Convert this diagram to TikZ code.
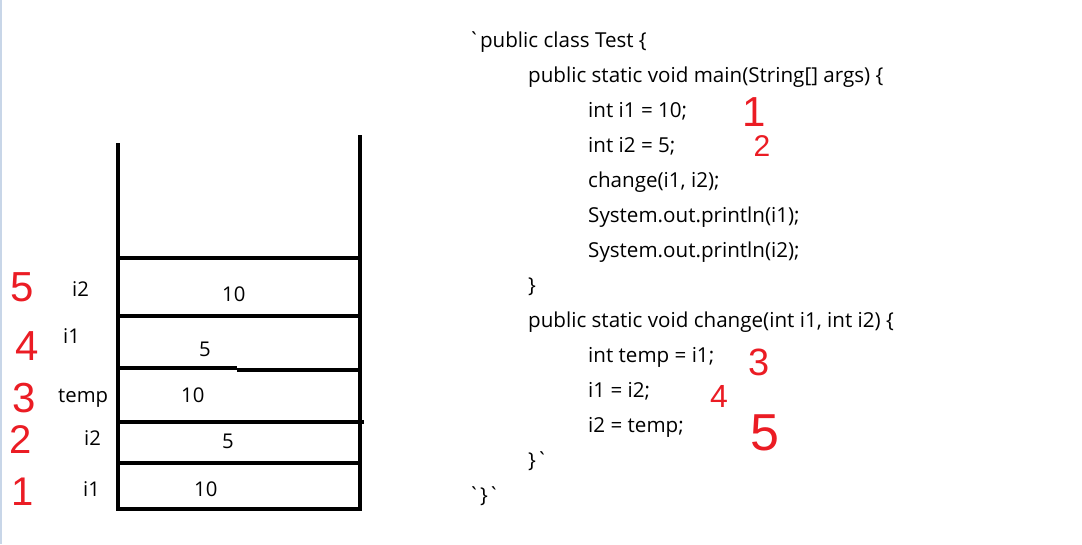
\documentclass[tikz,border=0pt]{standalone}
\usepackage{fontspec}
\setmainfont{Open Sans}
\newfontfamily\handfont{Liberation Sans}
\definecolor{penred}{RGB}{235,28,36}
\definecolor{edgeblue}{RGB}{200,214,232}
\begin{document}
\begin{tikzpicture}[x=1pt,y=-1pt,
  codetxt/.style={anchor=base west, inner sep=0pt, font=\fontsize{20.6}{24}\selectfont},
  cell/.style={anchor=base west, inner sep=0pt, font=\fontsize{20.3}{24}\selectfont},
  stackline/.style={line width=4pt},
  handnum/.style={inner sep=0pt, text=penred, font=\handfont\fontsize{#1}{#1}\selectfont}]
\useasboundingbox (0,0) rectangle (1082,544);
\fill[white] (0,0) rectangle (1082,544);
\draw[edgeblue, line width=1.5pt] (0.75,0) -- (0.75,544);

% stack
\coordinate (lt) at (118,143);
\coordinate (lb) at (118,511);
\coordinate (rt) at (360,135);
\coordinate (rb) at (360,511);
\draw[stackline] (lt) -- (lb);
\draw[stackline] (rt) -- (rb);
\draw[stackline] (116,509) -- (362,509);
\draw[stackline] (118,258) -- (360,258);
\draw[stackline] (118,316) -- (360,316);
\draw[stackline] (118,368) -- (237,368);
\draw[stackline] (237,370) -- (358,370);
\draw[stackline] (118,422) -- (364,422);
\draw[stackline] (118,463) -- (360,463);

% stack labels
\node[cell] (n5) at (72,296) {i2};
\node[cell] (v5) at (222,301) {10};
\node[cell] (n4) at (63,343) {i1};
\node[cell] (v4) at (199,356) {5};
\node[cell] (n3) at (58,402) {temp};
\node[cell] (v3) at (181,402) {10};
\node[cell] (n2) at (84,445) {i2};
\node[cell] (v2) at (222,448) {5};
\node[cell] (n1) at (83,496) {i1};
\node[cell] (v1) at (194,496) {10};

% red step numbers (left)
\node[handnum=42] (s5) at (22,287) {5};
\node[handnum=42] (s4) at (27,346) {4};
\node[handnum=42] (s3) at (24,398) {3};
\node[handnum=40] (s2) at (21,440) {2};
\node[handnum=40] (s1) at (23,492) {1};

% code
\node[codetxt] (c1)  at (468,47)  {\textasciigrave public class Test \{};
\node[codetxt] (c2)  at (528,82)  {public static void main(String[] args) \{};
\node[codetxt] (c3)  at (588,117) {int i1 = 10;};
\node[codetxt] (c4)  at (588,152) {int i2 = 5;};
\node[codetxt] (c5)  at (588,187) {change(i1, i2);};
\node[codetxt] (c6)  at (588,222) {System.out.println(i1);};
\node[codetxt] (c7)  at (588,257) {System.out.println(i2);};
\node[codetxt] (c8)  at (528,292) {\}};
\node[codetxt] (c9)  at (528,327) {public static void change(int i1, int i2) \{};
\node[codetxt] (c10) at (588,362) {int temp = i1;};
\node[codetxt] (c11) at (588,397) {i1 = i2;};
\node[codetxt] (c12) at (588,432) {i2 = temp;};
\node[codetxt] (c13) at (528,467) {\}\textasciigrave};
\node[codetxt] (c14) at (468,502) {\textasciigrave\}\textasciigrave};

% red step numbers (code)
\node[handnum=42] (k1) at (754,112) {1};
\node[handnum=30] (k2) at (762,146) {2};
\node[handnum=38] (k3) at (759,362) {3};
\node[handnum=32] (k4) at (719,396) {4};
\node[handnum=52] (k5) at (765,433) {5};
\end{tikzpicture}
\end{document}
